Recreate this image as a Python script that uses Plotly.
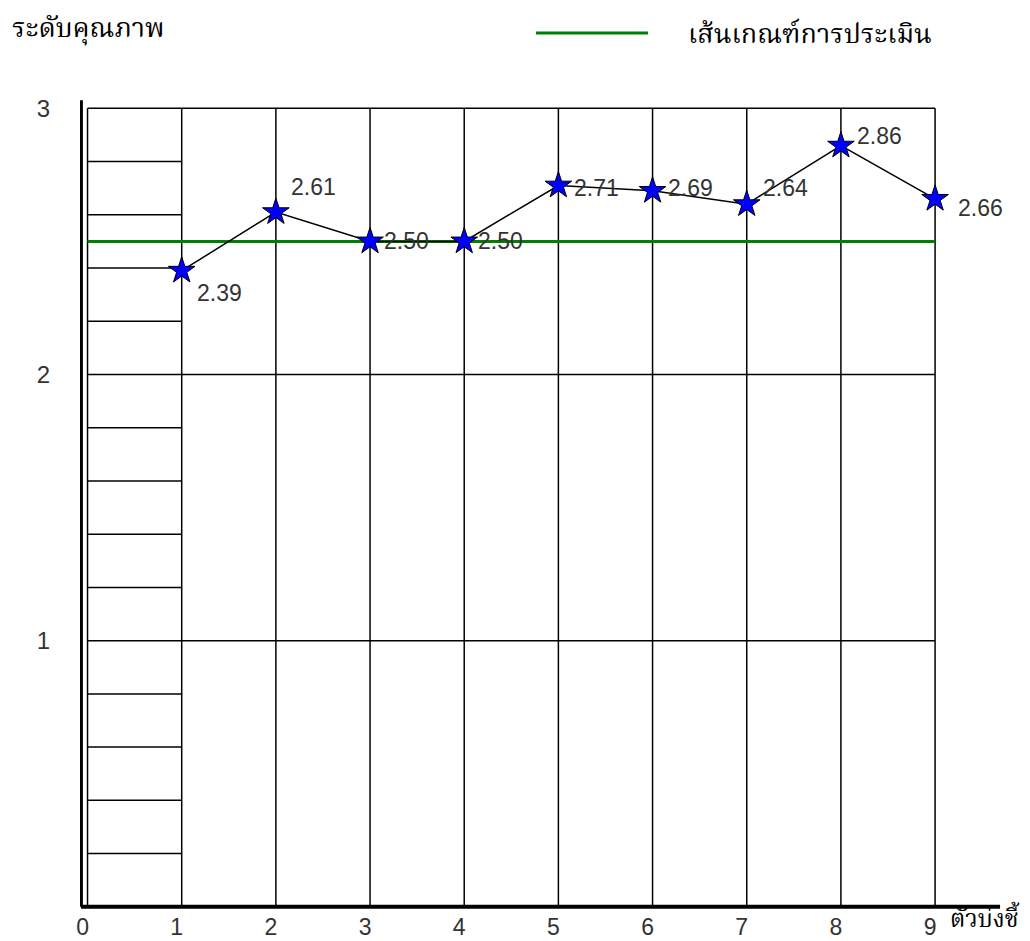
import plotly.graph_objects as go

# ---- data ----
indicators = [1, 2, 3, 4, 5, 6, 7, 8, 9]
scores = [2.39, 2.61, 2.50, 2.50, 2.71, 2.69, 2.64, 2.86, 2.66]
criterion = 2.50
x_ticks = [0, 1, 2, 3, 4, 5, 6, 7, 8, 9]
y_ticks = [1, 2, 3]
minor_y = [0.2, 0.4, 0.6, 0.8, 1.2, 1.4, 1.6, 1.8, 2.2, 2.4, 2.6, 2.8]
y_title = "ระดับคุณภาพ"
x_title = "ตัวบ่งชี้"
legend_text = "เส้นเกณฑ์การประเมิน"

# label offsets in pixels (right, down)
label_dx = [38, 38, 36, 36, 38, 38, 39, 39, 45]
label_dy = [22, -25, 0, 0, 2, -3, -16, -10, 9]

THAI = "Noto Serif Thai, Noto Sans Thai, Loma, Garuda, Norasi, Tlwg Typo, serif"
NUM = "Liberation Sans, Arial, sans-serif"

x_min, x_max = 0, 9
y_min, y_max = 0, 3

# page has an 8px body margin; figure is sized to fill the remaining window
OFF = 8
W, H = 1030 - OFF, 941 - OFF
L, R, T, B = 72, 29, 91, 31
PW, PH = W - L - R, H - T - B


def px(xp):  # page pixel x -> paper fraction
    return (xp - OFF - L) / PW


def py(yp):  # page pixel y -> paper fraction
    return (H - B - (yp - OFF)) / PH


fig = go.Figure()

# criterion line
fig.add_trace(go.Scatter(
    x=[x_min, x_max], y=[criterion, criterion], mode="lines",
    line=dict(color="#008000", width=3), showlegend=False, hoverinfo="skip"))

# data line
fig.add_trace(go.Scatter(
    x=indicators, y=scores, mode="lines",
    line=dict(color="black", width=1.5), showlegend=False))

# star markers
fig.add_trace(go.Scatter(
    x=indicators, y=scores, mode="markers",
    marker=dict(symbol="star", size=20, color="#0000FF",
                line=dict(color="black", width=1)),
    showlegend=False, cliponaxis=False))

shapes = []
grid = dict(color="black", width=1.5)
for xv in x_ticks:
    shapes.append(dict(type="line", xref="x", yref="y", x0=xv, x1=xv,
                       y0=y_min, y1=y_max, line=grid, layer="below"))
for yv in y_ticks:
    shapes.append(dict(type="line", xref="x", yref="y", x0=x_min, x1=x_max,
                       y0=yv, y1=yv, line=grid, layer="below"))
for yv in minor_y:
    shapes.append(dict(type="line", xref="x", yref="y", x0=x_min, x1=1,
                       y0=yv, y1=yv, line=grid, layer="below"))
# thick axis lines
shapes.append(dict(type="line", xref="x", yref="y", x0=-0.065, x1=-0.065,
                   y0=y_min, y1=3.03, line=dict(color="black", width=3)))
shapes.append(dict(type="line", xref="x", yref="y", x0=-0.07, x1=9.69,
                   y0=y_min, y1=y_min, line=dict(color="black", width=4)))
# legend sample line
shapes.append(dict(type="line", xref="paper", yref="paper",
                   x0=px(536), x1=px(648), y0=py(33), y1=py(33),
                   line=dict(color="#008000", width=3)))

annotations = []
for xv, yv, dx, dy in zip(indicators, scores, label_dx, label_dy):
    annotations.append(dict(x=xv, y=yv, xref="x", yref="y", text=f"{yv:.2f}",
                            showarrow=False, xshift=dx, yshift=-dy,
                            font=dict(family=NUM, size=23, color="#333333")))
annotations.append(dict(x=px(10), y=py(30), xref="paper", yref="paper",
                        xanchor="left", yanchor="middle", text=y_title,
                        showarrow=False,
                        font=dict(family=THAI, size=27, color="black")))
annotations.append(dict(x=px(686), y=py(35), xref="paper", yref="paper",
                        xanchor="left", yanchor="middle", text=legend_text,
                        showarrow=False,
                        font=dict(family=THAI, size=27, color="black")))
annotations.append(dict(x=px(1022), y=py(920), xref="paper", yref="paper",
                        xanchor="right", yanchor="middle", text=x_title,
                        showarrow=False,
                        font=dict(family=THAI, size=24, color="black")))

fig.update_layout(
    width=W, height=H,
    margin=dict(l=L, r=R, t=T, b=B, autoexpand=False),
    paper_bgcolor="white", plot_bgcolor="white",
    shapes=shapes, annotations=annotations,
    xaxis=dict(range=[-0.08, 9.7], tickvals=x_ticks,
               ticktext=[str(v) for v in x_ticks], showgrid=False,
               zeroline=False, showline=False, ticks="", automargin=False,
               tickfont=dict(family=NUM, size=23, color="#333333"),
               ticklabelstandoff=1, ticklabelshift=-5),
    yaxis=dict(range=[-0.012, 3.035], tickvals=y_ticks,
               ticktext=[str(v) for v in y_ticks], showgrid=False,
               zeroline=False, showline=False, ticks="", automargin=False,
               tickfont=dict(family=NUM, size=24, color="#333333"),
               ticklabelstandoff=29),
)

fig.write_html("out.html")
